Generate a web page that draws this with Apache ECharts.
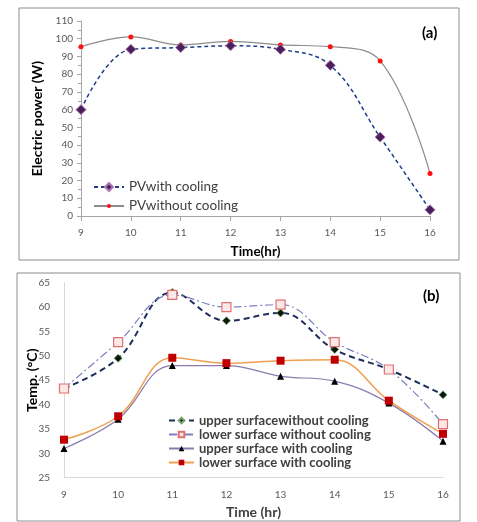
<!DOCTYPE html>
<html><head><meta charset="utf-8">
<script src="https://cdn.jsdelivr.net/npm/echarts@6/dist/echarts.min.js"></script>
<style>html,body{margin:0;padding:0;background:#fff}#c{width:477px;height:522px}</style>
</head><body><div id="c"></div>
<script>
const hours = [9, 10, 11, 12, 13, 14, 15, 16];
const pvWithCooling = [60, 94, 95, 96, 94, 85, 44.5, 3.5];
const pvWithoutCooling = [95.5, 101, 96.5, 98.5, 96.5, 95.5, 87.5, 24];
const upperWithout = [43.3, 49.5, 63, 57.2, 58.8, 51.3, 47.2, 42];
const lowerWithout = [43.3, 52.8, 62.5, 60, 60.5, 52.8, 47.2, 36];
const upperWith = [31, 37, 48, 48, 45.8, 44.8, 40.3, 32.5];
const lowerWith = [32.8, 37.6, 49.6, 48.5, 49, 49.2, 40.8, 34];

const pair = arr => hours.map((h, i) => [h, arr[i]]);
const F = 'Lato, "Open Sans", sans-serif';
const tickLbl = {fontFamily: F, fontSize: 10, color: '#595959'};
const legA = {fontFamily: F, fontSize: 13.5, color: '#404040'};
const legB = {fontFamily: F, fontSize: 13, fontWeight: 'bold', color: '#404040', lineHeight: 13};

const chart = echarts.init(document.getElementById('c'), null, {renderer: 'canvas'});
chart.setOption({
  animation: false,
  backgroundColor: '#fff',
  graphic: [
    {type: 'rect', shape: {x: 19, y: 8, width: 440, height: 252}, style: {fill: 'none', stroke: '#8c8c8c', lineWidth: 1}},
    {type: 'rect', shape: {x: 17, y: 273, width: 443, height: 248}, style: {fill: 'none', stroke: '#8c8c8c', lineWidth: 1}},
    {type: 'text', left: 422, top: 26, style: {text: '(a)', font: 'bold 15px ' + F, fill: '#000'}},
    {type: 'text', left: 423, top: 289, style: {text: '(b)', font: 'bold 15px ' + F, fill: '#000'}}
  ],
  grid: [
    {left: 81, right: 47, top: 21, height: 195},
    {left: 64, right: 34, top: 282.7, height: 195}
  ],
  legend: [
    {left: 88, top: 175, itemWidth: 30, itemHeight: 10, textStyle: legA, data: ['PVwith cooling']},
    {left: 88, top: 194, itemWidth: 30, itemHeight: 5, textStyle: legA, data: ['PVwithout cooling']},
    {
      left: 163, top: 409, orient: 'vertical', itemGap: 1, itemWidth: 25, itemHeight: 7, itemSymbolGap: 4,
      textStyle: legB,
      data: ['upper surfacewithout cooling', 'lower surface without cooling', 'upper surface with cooling', 'lower surface with cooling']
    }
  ],
  xAxis: [
    {
      type: 'value', gridIndex: 0, min: 9, max: 16, interval: 1,
      name: 'Time(hr)', nameLocation: 'middle', nameGap: 29,
      nameTextStyle: {fontFamily: F, fontSize: 13.5, fontWeight: 'bold', color: '#000'},
      axisLine: {lineStyle: {color: '#a6a6a6'}}, axisTick: {show: true, length: 5, lineStyle: {color: '#a6a6a6'}},
      splitLine: {show: false}, axisLabel: Object.assign({margin: 12}, tickLbl)
    },
    {
      type: 'value', gridIndex: 1, min: 9, max: 16, interval: 1,
      name: 'Time (hr)', nameLocation: 'middle', nameGap: 28,
      nameTextStyle: {fontFamily: F, fontSize: 14, fontWeight: 'bold', color: '#404040'},
      axisLine: {lineStyle: {color: '#d9d9d9'}}, axisTick: {show: false},
      splitLine: {show: false}, axisLabel: Object.assign({margin: 12}, tickLbl)
    }
  ],
  yAxis: [
    {
      type: 'value', gridIndex: 0, min: 0, max: 110, interval: 10,
      name: 'Electric power (W)', nameLocation: 'middle', nameGap: 36, nameRotate: 90,
      nameTextStyle: {fontFamily: F, fontSize: 14, fontWeight: 'bold', color: '#000'},
      axisLine: {show: true, lineStyle: {color: '#a6a6a6'}},
      axisTick: {show: true, length: 4, lineStyle: {color: '#a6a6a6'}},
      minorTick: {show: true, splitNumber: 2, length: 3, lineStyle: {color: '#a6a6a6'}},
      splitLine: {show: false}, axisLabel: Object.assign({margin: 8}, tickLbl)
    },
    {
      type: 'value', gridIndex: 1, min: 25, max: 65, interval: 5,
      name: 'Temp. (°C)', nameLocation: 'middle', nameGap: 25, nameRotate: 90, nameMoveOverlap: false,
      nameTextStyle: {fontFamily: F, fontSize: 14, fontWeight: 'bold', color: '#000'},
      axisLine: {show: true, lineStyle: {color: '#d9d9d9'}},
      axisTick: {show: false},
      splitLine: {show: false}, axisLabel: Object.assign({margin: 14}, tickLbl)
    }
  ],
  series: [
    {
      name: 'PVwithout cooling', type: 'line', xAxisIndex: 0, yAxisIndex: 0, smooth: 0.4,
      data: pair(pvWithoutCooling), symbol: 'circle', symbolSize: 5,
      lineStyle: {color: '#8c8c8c', width: 1.2}, itemStyle: {color: '#ff1010', borderWidth: 0}
    },
    {
      name: 'PVwith cooling', type: 'line', xAxisIndex: 0, yAxisIndex: 0, smooth: 0.4,
      data: pair(pvWithCooling), symbol: 'diamond', symbolSize: 10,
      lineStyle: {color: '#1f3d8a', width: 1.5, type: [4, 3]},
      itemStyle: {color: '#4a1f5c', borderColor: '#b07ab0', borderWidth: 1}
    },
    {
      name: 'upper surfacewithout cooling', type: 'line', xAxisIndex: 1, yAxisIndex: 1, smooth: 0.4,
      data: pair(upperWithout), symbol: 'diamond', symbolSize: 8,
      lineStyle: {color: '#1f2f5c', width: 2, type: [6, 4]},
      itemStyle: {color: '#0a1a0a', borderColor: '#7aa070', borderWidth: 0.8}
    },
    {
      name: 'lower surface without cooling', type: 'line', xAxisIndex: 1, yAxisIndex: 1, smooth: 0.4,
      data: pair(lowerWithout), symbol: 'rect', symbolSize: 9,
      lineStyle: {color: '#7f7fc0', width: 1.2, type: [8, 3, 2, 3]},
      itemStyle: {color: '#fde8e8', borderColor: '#e07070', borderWidth: 1.2}
    },
    {
      name: 'upper surface with cooling', type: 'line', xAxisIndex: 1, yAxisIndex: 1, smooth: 0.4,
      data: pair(upperWith), symbol: 'triangle', symbolSize: 7,
      lineStyle: {color: '#8a7ab0', width: 1.2},
      itemStyle: {color: '#000'}
    },
    {
      name: 'lower surface with cooling', type: 'line', xAxisIndex: 1, yAxisIndex: 1, smooth: 0.4,
      data: pair(lowerWith), symbol: 'rect', symbolSize: 8,
      lineStyle: {color: '#f0a050', width: 1.5},
      itemStyle: {color: '#c00000'}
    }
  ]
});
</script></body></html>
